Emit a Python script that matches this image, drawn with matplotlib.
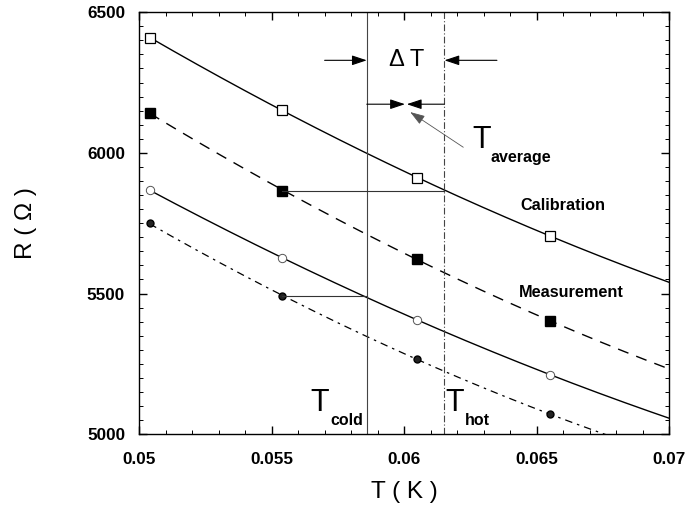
import numpy as np
import matplotlib
matplotlib.use("Agg")
import matplotlib.pyplot as plt
from matplotlib.ticker import MultipleLocator

plt.rcParams['font.family'] = ['Liberation Sans', 'DejaVu Sans']

# Data
T = [0.0504, 0.0554, 0.0605, 0.0655]
cal_open_sq = [6410, 6152, 5911, 5705]       # Calibration (open squares)
meas_fill_sq = [6142, 5865, 5624, 5402]      # Measurement (filled squares)
cal_open_circ = [5867, 5628, 5405, 5212]     # Calibration (open circles)
meas_fill_circ = [5749, 5490, 5269, 5070]    # Measurement (filled circles)

T_cold = 0.05859
T_hot = 0.06152
x_ticks = [0.05, 0.055, 0.06, 0.065, 0.07]
x_ticklabels = ['0.05', '0.055', '0.06', '0.065', '0.07']
y_ticks = [5000, 5500, 6000, 6500]

fig = plt.figure(figsize=(6.85, 5.09), dpi=100)
ax = fig.add_axes([0.203, 0.147, 0.774, 0.829])

xs = np.linspace(T[0], 0.0702, 200)

def fit(y):
    p = np.polyfit(T, y, 2)
    return np.polyval(p, xs)

ax.plot(xs, fit(cal_open_sq), '-', color='black', lw=1.0)
ax.plot(xs, fit(meas_fill_sq), color='black', lw=1.0, dashes=(8, 6))
ax.plot(xs, fit(cal_open_circ), '-', color='black', lw=1.0)
ax.plot(xs, fit(meas_fill_circ), color='black', lw=0.9, dashes=(6, 4, 2, 4))

ax.plot(T, cal_open_sq, 's', mfc='white', mec='black', ms=7, mew=0.9)
ax.plot(T, meas_fill_sq, 's', mfc='black', mec='black', ms=7)
ax.plot(T, cal_open_circ, 'o', mfc='white', mec='#555555', ms=6, mew=0.7)
ax.plot(T, meas_fill_circ, 'o', mfc='#222222', mec='black', ms=5)

# vertical marker lines
ax.axvline(T_cold, color='#444444', lw=0.8)
ax.axvline(T_hot, color='#444444', lw=0.8, dashes=(6, 2, 1, 2))

# horizontal connectors
ax.plot([T[1], T_hot], [meas_fill_sq[1], meas_fill_sq[1]], color='#333333', lw=0.8)
ax.plot([T[1], T_cold], [meas_fill_circ[1], meas_fill_circ[1]], color='#333333', lw=0.8)

# Delta T arrows
ap = dict(arrowstyle='-|>,head_length=0.9,head_width=0.3', color='black', lw=0.8,
          shrinkA=0, shrinkB=0)
y_dt = 6329
ax.annotate('', xy=(T_cold, y_dt), xytext=(0.0570, y_dt), arrowprops=ap)
ax.annotate('', xy=(T_hot, y_dt), xytext=(0.0635, y_dt), arrowprops=ap)
ax.text(0.06008, y_dt, 'Δ T', fontsize=17, ha='center', va='center')

y_av = 6173
ax.annotate('', xy=(0.06003, y_av), xytext=(T_cold, y_av), arrowprops=ap)
ax.annotate('', xy=(0.06010, y_av), xytext=(T_hot, y_av), arrowprops=ap)
ax.annotate('', xy=(0.06023, 6145), xytext=(0.06223, 6020),
            arrowprops=dict(arrowstyle='-|>,head_length=0.9,head_width=0.3',
                            color='#555555', lw=0.6, shrinkA=0, shrinkB=0))

ax.text(0.06294, 6045, 'T', fontsize=22, ha='center', va='center')
ax.text(0.06325, 5985, 'average', fontsize=11.5, fontweight='bold', ha='left', va='center')
ax.text(0.05683, 5110, 'T', fontsize=22, ha='center', va='center')
ax.text(0.05722, 5048, 'cold', fontsize=11.5, fontweight='bold', ha='left', va='center')
ax.text(0.06192, 5110, 'T', fontsize=22, ha='center', va='center')
ax.text(0.06228, 5048, 'hot', fontsize=11.5, fontweight='bold', ha='left', va='center')
ax.text(0.0660, 5814, 'Calibration', fontsize=11.7, fontweight='bold', ha='center', va='center')
ax.text(0.0663, 5505, 'Measurement', fontsize=11.7, fontweight='bold', ha='center', va='center')

ax.set_xlim(0.05, 0.07)
ax.set_ylim(5000, 6500)
ax.set_xticks(x_ticks)
ax.set_xticklabels(x_ticklabels)
ax.set_yticks(y_ticks)
ax.xaxis.set_minor_locator(MultipleLocator(0.001))
ax.yaxis.set_minor_locator(MultipleLocator(50))
ax.tick_params(which='both', direction='in', top=True, right=True, labelsize=12.3)
ax.tick_params(which='major', length=6, width=1)
ax.tick_params(which='minor', length=3, width=0.7)
ax.tick_params(axis='x', pad=13)
ax.tick_params(axis='y', pad=10)
for lab in ax.get_xticklabels() + ax.get_yticklabels():
    lab.set_fontweight('bold')
for s in ax.spines.values():
    s.set_linewidth(1.0)

ax.set_xlabel('T ( K )', fontsize=17.5, labelpad=10)
ax.set_ylabel('R ( Ω )', fontsize=17.5, labelpad=36)

fig.savefig('out.png', dpi=100)
